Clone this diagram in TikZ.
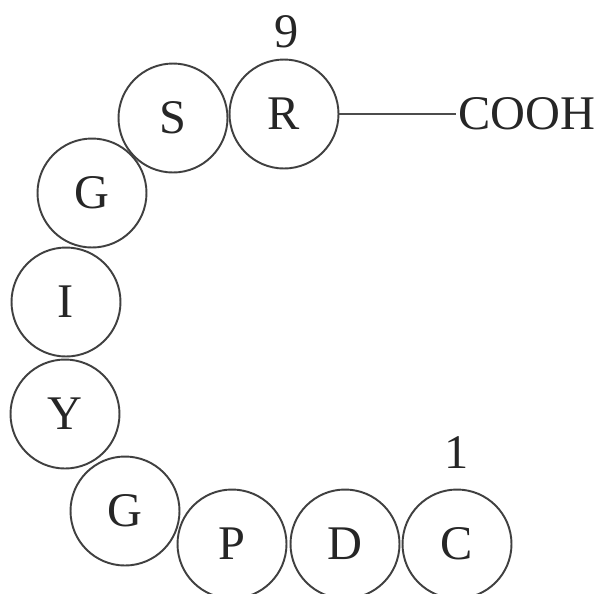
\documentclass[tikz,border=0pt]{standalone}
\usepackage{fontspec}
\setmainfont{Liberation Serif}
\usepackage{tikz}

\begin{document}
\begin{tikzpicture}[x=0.02cm, y=-0.02cm,
    residue/.style={circle, draw=black!75, line width=1.1pt, minimum size=2.18cm,
      inner sep=0pt, text=black!85, font=\fontsize{27.5}{32}\selectfont},
    label text/.style={text=black!85, font=\fontsize{27.5}{32}\selectfont}]
  \useasboundingbox (0,0) rectangle (594,593);

  % Residues
  \node[residue] (R)  at (284,114) {R};
  \node[residue] (S)  at (173,118) {S};
  \node[residue] (G2) at (92,193)  {G};
  \node[residue] (I)  at (66,302)  {I};
  \node[residue] (Y)  at (65,414)  {Y};
  \node[residue] (G1) at (125,511) {G};
  \node[residue] (P)  at (232,544) {P};
  \node[residue] (D)  at (345,544) {D};
  \node[residue] (C)  at (457,544) {C};

  % Numbering
  \node[label text] (n9) at (287,32)  {9};
  \node[label text] (n1) at (457,453) {1};

  % Carboxyl end
  \node[label text, anchor=west, inner sep=1pt] (cooh) at (456,114) {COOH};
  \draw[black!70, line width=1.4pt] (R.east) -- (cooh.west);
\end{tikzpicture}
\end{document}
